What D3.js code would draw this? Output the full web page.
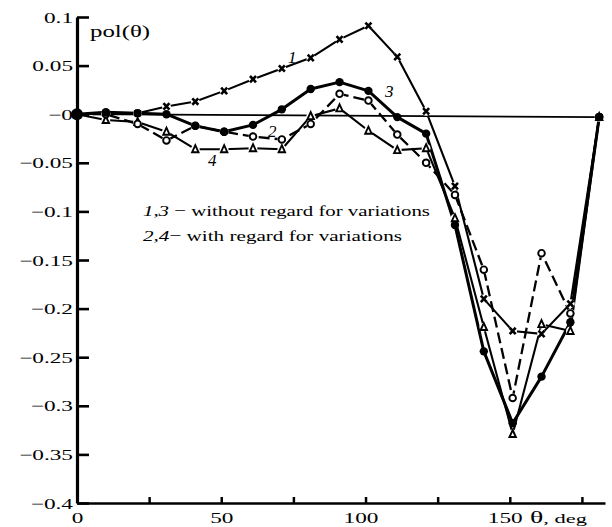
<!DOCTYPE html>
<html>
<head>
<meta charset="utf-8">
<script src="https://cdn.jsdelivr.net/npm/d3@7"></script>
<style>
  body { margin: 0; background: #fff; }
  text { font-family: "Liberation Serif", "DejaVu Serif", serif; fill: #000; }
</style>
</head>
<body>
<div id="chart"></div>
<script>
// scattering angle, deg
var theta  = [0, 10, 21, 31, 41, 51, 61, 71, 81, 91, 101, 111, 121, 131, 141, 151, 161, 171, 181];
// 1 - crosses, 2 - open circles, 3 - filled circles, 4 - triangles
var curve1 = [0, 0.001, 0.001, 0.008, 0.013, 0.024, 0.036, 0.047, 0.058, 0.077, 0.091, 0.059, 0.003, -0.074, -0.190, -0.223, -0.226, -0.195, -0.003];
var curve2 = [0, 0, -0.010, -0.027, -0.012, -0.018, -0.023, -0.026, -0.010, 0.021, 0.014, -0.021, -0.050, -0.083, -0.160, -0.292, -0.143, -0.205, -0.003];
var curve3 = [0, 0.002, 0.001, 0, -0.012, -0.018, -0.011, 0.005, 0.026, 0.033, 0.024, -0.003, -0.020, -0.114, -0.244, -0.318, -0.270, -0.214, -0.003];
var curve4 = [0, -0.006, -0.008, -0.018, -0.036, -0.036, -0.035, -0.036, -0.002, 0.006, -0.017, -0.037, -0.035, -0.107, -0.219, -0.329, -0.216, -0.223, -0.003];
var zeroLine = [[0, 0], [181, -0.003]];

var xTicks = [0, 25, 50, 75, 100, 125, 150, 175];
var xTickLabels = {0: "0", 50: "50", 100: "100", 150: "150"};
var yTicks = [0.1, 0.05, 0, -0.05, -0.1, -0.15, -0.2, -0.25, -0.3, -0.35, -0.4];
var yTickLabels = ["0.1", "0.05", "\u22120", "\u22120.05", "\u22120.1", "\u22120.15", "\u22120.2", "\u22120.25", "\u22120.3", "\u22120.35", "\u22120.4"];

var width = 612, height = 527;

var x = d3.scaleLinear().domain([0, 183]).range([77, 605]);
var y = d3.scaleLinear().domain([-0.4, 0.1]).range([503, 17]);

var svg = d3.select("#chart").append("svg")
    .attr("width", width)
    .attr("height", height);
svg.append("rect").attr("width", width).attr("height", height).attr("fill", "#fff");

// widen text like the scanned figure
function stretch(sel, k) {
  sel.each(function() {
    var w = this.getComputedTextLength();
    d3.select(this).attr("textLength", w * k).attr("lengthAdjust", "spacingAndGlyphs");
  });
}

// axes
var xAxis = d3.axisBottom(x)
    .tickValues(xTicks)
    .tickSizeInner(-6)
    .tickSizeOuter(0)
    .tickFormat(function(d) { return xTickLabels[d] || ""; });
var gx = svg.append("g")
    .attr("transform", "translate(0," + y(-0.4) + ")")
    .call(xAxis);
gx.attr("font-family", null).attr("font-size", null);
gx.select(".domain").attr("stroke-width", 2.4);
gx.selectAll(".tick line").attr("stroke-width", 2.5);
gx.selectAll(".tick text")
    .attr("y", 20).attr("dy", 0)
    .attr("dx", function(d) { return d >= 100 ? -5 : 0; })
    .style("font-size", "15px");
stretch(gx.selectAll(".tick text"), 1.55);

var yAxis = d3.axisLeft(y)
    .tickValues(yTicks)
    .tickSizeInner(-12)
    .tickSizeOuter(0)
    .tickPadding(4)
    .tickFormat(function(d, i) { return yTickLabels[i]; });
var gy = svg.append("g")
    .attr("transform", "translate(" + x(0) + ",0)")
    .call(yAxis);
gy.attr("font-family", null).attr("font-size", null);
gy.select(".domain").attr("stroke-width", 3.2);
gy.selectAll(".tick line").attr("stroke-width", 2.6);
gy.selectAll(".tick text").attr("dy", "0.34em").style("font-size", "15px");
stretch(gy.selectAll(".tick text"), 1.55);

// axis titles
var pol = svg.append("text").attr("x", 90).attr("y", 37).style("font-size", "16px").text("pol(\u03b8)");
stretch(pol, 1.55);
var th = svg.append("text").attr("x", 530).attr("y", 523).style("font-size", "16px");
th.append("tspan").text("\u03b8");
th.append("tspan").style("font-size", "13px").text(", deg");
th.attr("textLength", 57).attr("lengthAdjust", "spacingAndGlyphs");

// zero reference line
svg.append("path")
    .datum(zeroLine)
    .attr("fill", "none")
    .attr("stroke", "#000")
    .attr("stroke-width", 1.8)
    .attr("d", d3.line().x(function(d) { return x(d[0]); }).y(function(d) { return y(d[1]); }));

var line = d3.line()
    .x(function(d, i) { return x(theta[i]); })
    .y(function(d) { return y(d); });

var series = [
  {values: curve3, width: 3.0, dash: null},
  {values: curve2, width: 2.3, dash: "11,5"},
  {values: curve4, width: 2.1, dash: null},
  {values: curve1, width: 2.1, dash: null}
];
svg.selectAll(".curve")
    .data(series)
    .enter().append("path")
    .attr("class", "curve")
    .attr("fill", "none")
    .attr("stroke", "#000")
    .attr("stroke-linejoin", "round")
    .attr("stroke-width", function(d) { return d.width; })
    .attr("stroke-dasharray", function(d) { return d.dash; })
    .attr("d", function(d) { return line(d.values); });

// white halos around open markers give the little gaps in the lines
[curve1, curve4, curve2].forEach(function(c) {
  svg.append("g").selectAll("circle")
      .data(c)
      .enter().append("circle")
      .attr("cx", function(d, i) { return x(theta[i]); })
      .attr("cy", function(d) { return y(d); })
      .attr("r", 4.4)
      .attr("fill", "#fff");
});

// crosses
svg.append("g").selectAll("path")
    .data(curve1)
    .enter().append("path")
    .attr("transform", function(d, i) { return "translate(" + x(theta[i]) + "," + y(d) + ")"; })
    .attr("d", "M-3,-3.2L3,3.2M-3,3.2L3,-3.2")
    .attr("stroke", "#000")
    .attr("stroke-width", 2.6);

// triangles
svg.append("g").selectAll("path")
    .data(curve4)
    .enter().append("path")
    .attr("transform", function(d, i) { return "translate(" + x(theta[i]) + "," + y(d) + ")"; })
    .attr("d", "M0,-4L3.2,3L-3.2,3Z")
    .attr("fill", "#fff")
    .attr("stroke", "#000")
    .attr("stroke-width", 1.9);

// open circles
svg.append("g").selectAll("circle")
    .data(curve2)
    .enter().append("circle")
    .attr("cx", function(d, i) { return x(theta[i]); })
    .attr("cy", function(d) { return y(d); })
    .attr("r", 3.3)
    .attr("fill", "#fff")
    .attr("stroke", "#000")
    .attr("stroke-width", 1.9);

// filled circles
svg.append("g").selectAll("circle")
    .data(curve3)
    .enter().append("circle")
    .attr("cx", function(d, i) { return x(theta[i]); })
    .attr("cy", function(d) { return y(d); })
    .attr("r", function(d, i) { return i === 0 ? 6 : 4.2; })
    .attr("fill", "#000");

// curve numbers
var nums = [["1", 288, 63], ["3", 385, 97], ["2", 268, 137], ["4", 208, 166]];
svg.selectAll(".num")
    .data(nums)
    .enter().append("text")
    .attr("class", "num")
    .attr("x", function(d) { return d[1]; })
    .attr("y", function(d) { return d[2]; })
    .style("font-size", "17px")
    .style("font-style", "italic")
    .text(function(d) { return d[0]; });

// legend
var leg1 = svg.append("text").attr("x", 143).attr("y", 216).style("font-size", "15.5px");
leg1.append("tspan").style("font-style", "italic").text("1,3");
leg1.append("tspan").text(" \u2212 without regard for variations");
leg1.attr("textLength", 287).attr("lengthAdjust", "spacingAndGlyphs");

var leg2 = svg.append("text").attr("x", 143).attr("y", 241).style("font-size", "15.5px");
leg2.append("tspan").style("font-style", "italic").text("2,4");
leg2.append("tspan").text("\u2212 with regard for variations");
leg2.attr("textLength", 259).attr("lengthAdjust", "spacingAndGlyphs");
</script>
</body>
</html>
